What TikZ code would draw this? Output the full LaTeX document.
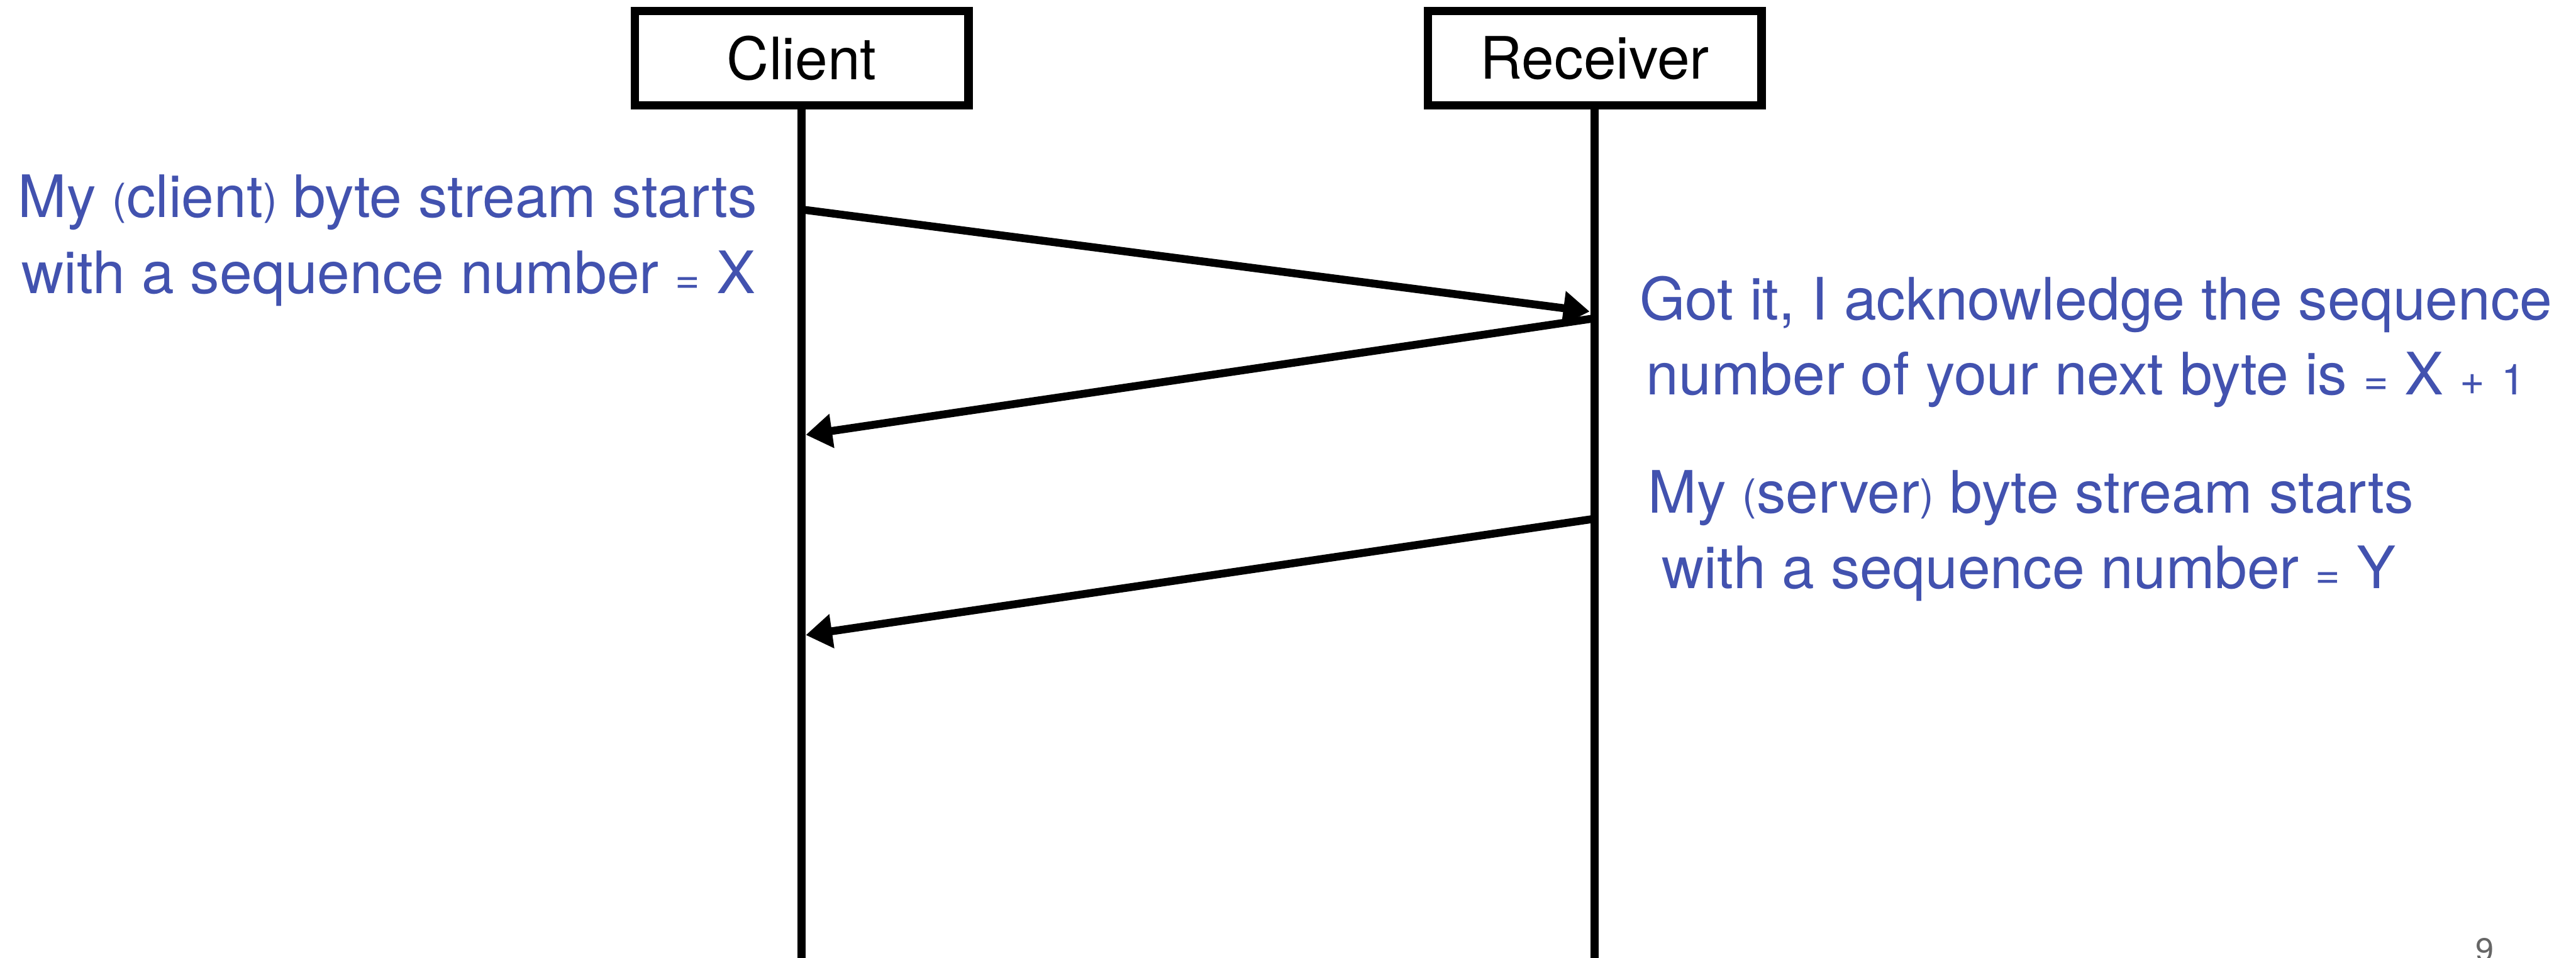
\documentclass[tikz,border=0pt]{standalone}
\usepackage{fontspec}
\setmainfont{TeX Gyre Heros}
\usetikzlibrary{arrows.meta}
\definecolor{msgblue}{RGB}{66,82,175}
\definecolor{pagegray}{RGB}{102,102,102}
% smaller glyphs for symbols set inside the notes
\newcommand\smallsym[1]{{\fontsize{26}{26}\selectfont #1}}
\newcommand\smallparen[1]{\raisebox{2pt}{\smallsym{#1}}}

\begin{document}
\begin{tikzpicture}[x=1pt,y=-1pt,
  actor/.style={draw, line width=5.1pt, minimum width=203pt, minimum height=57.2pt,
    inner sep=0pt, font=\fontsize{35.6}{40}\selectfont},
  lifeline/.style={line width=5.1pt},
  msg/.style={line width=4.8pt, -{Triangle[length=16pt,width=20pt]}},
  note/.style={text=msgblue, inner sep=0pt, font=\fontsize{35.6}{46}\selectfont},
]
\path[use as bounding box, fill=white] (0,0) rectangle (1568,583);

% participants and their lifelines
\node[actor] (client) at (488,35.4) {Client};
\node[actor] (recv) at (970.7,35.4) {Receiver};
\coordinate (clientEnd) at (488,583);
\coordinate (recvEnd) at (970.7,583);
\draw[lifeline] (client.south) -- (clientEnd);
\draw[lifeline] (recv.south) -- (recvEnd);

% message end points on the lifelines
\coordinate (m1from) at (488,127.5);
\coordinate (m1to) at (967.6,189.6);
\coordinate (m2from) at (970.7,193.7);
\coordinate (m2to) at (490.5,264.6);
\coordinate (m3from) at (970.7,315.7);
\coordinate (m3to) at (490.5,386.5);

\draw[msg] (m1from) -- (m1to);
\draw[msg] (m2from) -- (m2to);
\draw[msg] (m3from) -- (m3to);

% notes
\node[note, anchor=base east] (cl1) at (461,132.3) {My \smallparen{(}client\smallparen{)} byte stream starts};
\node[note, anchor=base east] (cl2) at (460,178.4) {with a sequence number \smallsym{=} X};
\node[note, anchor=base west] (ack1) at (997.9,194.6) {Got it, I acknowledge the sequence};
\node[note, anchor=base west] (ack2) at (1001.9,240.3) {number of your next byte is \smallsym{=} X \smallsym{+} \smallsym{1}};
\node[note, anchor=base west] (sv1) at (1003,312.3) {My \smallparen{(}server\smallparen{)} byte stream starts};
\node[note, anchor=base west] (sv2) at (1011.5,358.3) {with a sequence number \smallsym{=} Y};

% page number
\node[text=pagegray, inner sep=0pt, anchor=base west, font=\fontsize{20}{20}\selectfont] (page) at (1506.7,585.2) {9};
\end{tikzpicture}
\end{document}
